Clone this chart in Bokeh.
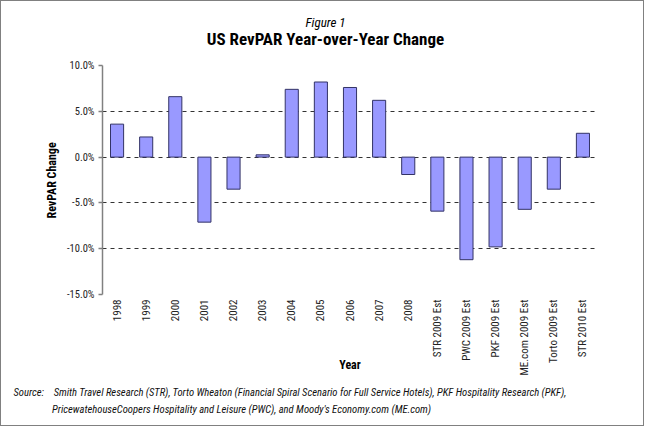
from math import pi
from bokeh.plotting import figure
from bokeh.models import FactorRange, Range1d, FixedTicker, PrintfTickFormatter, Title, Label, ColumnDataSource
from bokeh.embed import file_html
from bokeh.resources import INLINE

# ---- data ----
categories = ["1998", "1999", "2000", "2001", "2002", "2003", "2004", "2005", "2006",
              "2007", "2008", "STR 2009 Est", "PWC 2009 Est", "PKF 2009 Est",
              "ME.com 2009 Est", "Torto 2009 Est", "STR 2010 Est"]
revpar_change = [3.6, 2.2, 6.6, -7.1, -3.5, 0.25, 7.4, 8.2, 7.6, 6.2, -1.9,
                 -5.9, -11.2, -9.8, -5.7, -3.5, 2.6]
y_ticks = [-15, -10, -5, 0, 5, 10]
grid_ticks = [-10, -5, 0, 5]
axis_min, axis_max = -15, 10

FONT = "Roboto Condensed"

src = ColumnDataSource(dict(cat=categories, val=revpar_change))

# the frame reaches up to the top of the picture so the titles can sit inside it;
# the y axis itself is bounded to -15%..10%
p = figure(width=644, height=426, output_backend="svg", toolbar_location=None,
           x_range=FactorRange(*categories, range_padding=0),
           y_range=Range1d(axis_min, 16.88),
           min_border_left=101, min_border_right=48, min_border_top=1, min_border_bottom=133,
           background_fill_color="white", border_fill_color="white")
p.styles = {"border": "1px solid #808080"}
p.outline_line_color = None

p.vbar(x="cat", top="val", bottom=0, width=0.45, source=src,
       fill_color="#9999FF", line_color="#333366", line_width=1)

# grid
p.xgrid.grid_line_color = None
p.ygrid.ticker = FixedTicker(ticks=grid_ticks)
p.ygrid.grid_line_color = "#333333"
p.ygrid.grid_line_dash = "4 4"
p.ygrid.grid_line_width = 1

# y axis
ya = p.yaxis[0]
ya.bounds = (axis_min, axis_max)
ya.ticker = FixedTicker(ticks=y_ticks)
ya.formatter = PrintfTickFormatter(format="%.1f%%")
ya.axis_line_color = "#808080"
ya.axis_line_width = 1.5
ya.major_tick_line_color = "#808080"
ya.major_tick_line_width = 1.5
ya.major_tick_out = 4
ya.major_tick_in = 0
ya.minor_tick_line_color = None
ya.major_label_standoff = 4
ya.major_label_text_font = FONT
ya.major_label_text_font_size = "10.5px"
ya.major_label_text_color = "#222222"

p.add_layout(Title(text="RevPAR Change", align="left", offset=76, text_font=FONT,
                   text_font_size="12px", text_font_style="bold", text_color="#000000",
                   standoff=10), "left")

# x axis
xa = p.xaxis[0]
xa.axis_line_color = None
xa.major_tick_line_color = None
xa.major_tick_out = 0
xa.major_tick_in = 0
xa.major_label_orientation = pi / 2
xa.major_label_standoff = 5
xa.major_label_text_font = FONT
xa.major_label_text_font_size = "11px"
xa.major_label_text_color = "#222222"
xa.axis_label = "Year"
xa.axis_label_text_font = FONT
xa.axis_label_text_font_size = "12px"
xa.axis_label_text_font_style = "bold"
xa.axis_label_text_color = "#000000"
xa.axis_label_standoff = -21

# titles, placed inside the (tall) frame
p.add_layout(Label(x=223, y=272, x_units="screen", y_units="screen", text="Figure 1",
                   text_font=FONT, text_font_size="13px", text_font_style="italic",
                   text_align="center", text_baseline="middle", text_color="#000000"))
p.add_layout(Label(x=223, y=255.5, x_units="screen", y_units="screen",
                   text="US RevPAR Year-over-Year Change",
                   text_font=FONT, text_font_size="17px", text_font_style="bold",
                   text_align="center", text_baseline="middle", text_color="#000000"))

# source notes
NB = "\u00a0"
source_text = ("Source:" + NB * 4 + "Smith Travel Research (STR), Torto Wheaton (Financial Spiral Scenario for Full Service Hotels), PKF Hospitality Research (PKF),\n"
               + NB * 16 + "PricewatehouseCoopers Hospitality and Leisure (PWC), and Moody's Economy.com (ME.com)")
p.add_layout(Title(text=source_text, align="left", offset=-89, text_font=FONT, text_font_size="10.6px",
                   text_font_style="italic", text_color="#111111", text_line_height=1.35,
                   standoff=18), "below")

open("out.html", "w").write(file_html(p, INLINE))
